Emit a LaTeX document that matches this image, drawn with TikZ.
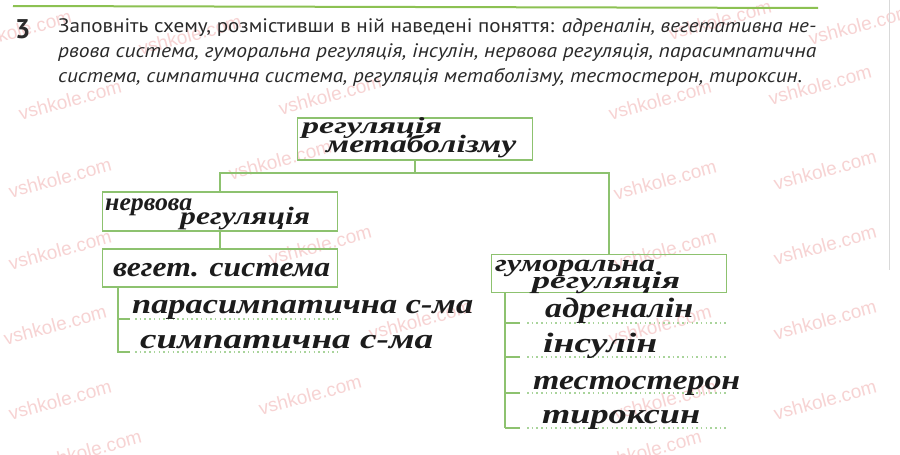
\documentclass[tikz,border=0pt]{standalone}
\usepackage{fontspec}
\setmainfont{PT Sans}
\newfontfamily\handfont{Liberation Serif}
\newfontfamily\markfont{Liberation Sans}
\usetikzlibrary{calc}
\definecolor{schemegreen}{HTML}{8DC26F}
\definecolor{dotgreen}{HTML}{A9D49B}
\definecolor{rulegreen}{HTML}{8CC152}
\definecolor{ink}{HTML}{1C1C1C}
\definecolor{print}{HTML}{2A2A2A}
\definecolor{markpink}{HTML}{F7D3D3}
\newcommand{\hw}[2]{\resizebox{#1pt}{\height}{#2}}

\begin{document}
\begin{tikzpicture}[x=1pt,y=-1pt,
  box/.style={draw=schemegreen,line width=1.2pt,minimum width=235pt,inner sep=0pt},
  link/.style={draw=schemegreen,line width=1.2pt},
  answer/.style={draw=dotgreen,line width=1.5pt,dash pattern=on 1.5pt off 3.2pt},
  hand/.style={font=\handfont\bfseries\itshape\fontsize{28}{30}\selectfont,text=ink,inner sep=0pt,anchor=base west},
  printed/.style={font=\fontsize{19.5}{21}\selectfont,text=print,inner sep=0pt,anchor=base west},
  wmark/.style={font=\markfont\fontsize{19}{19}\selectfont,text=markpink,rotate=15}]
\useasboundingbox (0,0) rectangle (900,455);
\fill[white] (0,0) rectangle (900,455);

% watermarks
\foreach \x/\y in {20/30,190/35,720/20,860/25,
  70/100,330/95,660/100,820/85,
  60/178,280/160,665/180,825/170,
  60/250,320/245,665/250,825/245,
  55/325,420/320,660/325,825/320,
  60/400,310/395,665/400,825/400,
  90/450,650/450}
  \node[wmark] at (\x,\y) {vshkole.com};
\draw[gray!30,line width=1pt] (889,0) -- (889,270);

% task header
\draw[rulegreen,line width=2pt] (13,6) -- (818,8);
\node[printed,font=\bfseries\fontsize{27}{27}\selectfont] (num) at (15,38) {3};
\node[printed] (line1) at (58,32) {\hw{758}{Заповніть схему, розмістивши в ній наведені поняття: \textit{адреналін, вегетативна не-}}};
\node[printed] (line2) at (58,57) {\hw{758}{\textit{рвова система, гуморальна регуляція, інсулін, нервова регуляція, парасимпатична}}};
\node[printed] (line3) at (58,82) {\hw{744}{\textit{система, симпатична система, регуляція метаболізму, тестостерон, тироксин.}}};

% scheme boxes
\node[box,minimum height=42pt] (metab) at (415,139) {};
\node[box,minimum height=39pt] (nerv) at (220,211.5) {};
\node[box,minimum height=38pt] (veget) at (220,268) {};
\node[box,minimum height=38pt] (humor) at (609,273.5) {};
\coordinate (split) at (415,173);
\draw[link] (metab.south) -- (split);
\draw[link] (nerv.north) |- (split) -| (humor.north);
\draw[link] (nerv.south) -- (veget.north);

% left list
\coordinate (vs) at ([xshift=16pt]veget.south west);
\coordinate (para) at (130,319);
\coordinate (sym) at (130,352);
\draw[link] (vs) |- (sym);
\draw[link] (vs |- para) -- (para);
\draw[answer] ([xshift=5pt]para) -- (para -| veget.east);
\draw[answer] ([xshift=5pt]sym) -- (sym -| veget.east);

% right list
\coordinate (hs) at ([xshift=14pt]humor.south west);
\foreach \y/\n in {323/adr,357/ins,393/test,428/tyr}{
  \coordinate (\n) at (520,\y);
  \draw[link] (hs |- \n) -- (\n);
  \draw[answer] ([xshift=7pt]\n) -- (\n -| humor.east);
}
\draw[link] (hs) -- (hs |- tyr);

% handwritten answers
\node[hand,font=\handfont\bfseries\itshape\fontsize{23}{24}\selectfont] (metaba) at (302,133) {\hw{140}{регуляція}};
\node[hand,font=\handfont\bfseries\itshape\fontsize{25}{26}\selectfont] (metabb) at (326,152) {\hw{190}{метаболізму}};
\node[hand,font=\handfont\bfseries\itshape\fontsize{25}{26}\selectfont] (nerva) at (105,210) {\hw{87}{нервова}};
\node[hand,font=\handfont\bfseries\itshape\fontsize{25}{26}\selectfont] (nervb) at (180,224) {\hw{130}{регуляція}};
\node[hand] (vegt) at (113,276) {\hw{217}{вегет. система}};
\node[hand] (parat) at (132,313) {\hw{341}{парасимпатична с-ма}};
\node[hand] (symt) at (140,348) {\hw{293}{симпатична с-ма}};
\node[hand,font=\handfont\bfseries\itshape\fontsize{24}{26}\selectfont] (huma) at (495,271) {\hw{160}{гуморальна}};
\node[hand,font=\handfont\bfseries\itshape\fontsize{24}{26}\selectfont] (humb) at (532,288) {\hw{148}{регуляція}};
\node[hand] (adrt) at (545,317) {\hw{148}{адреналін}};
\node[hand] (inst) at (543,352) {\hw{114}{інсулін}};
\node[hand] (testt) at (533,389) {\hw{207}{тестостерон}};
\node[hand] (tyrt) at (542,423) {\hw{158}{тироксин}};
\end{tikzpicture}
\end{document}
